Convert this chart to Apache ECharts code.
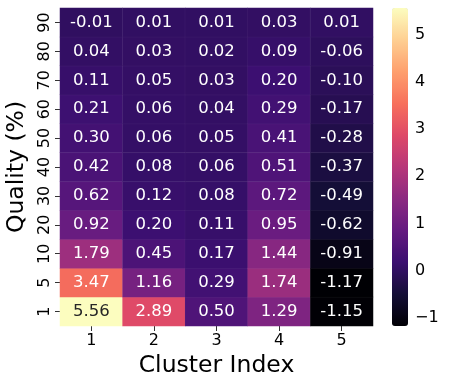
<!DOCTYPE html>
<html>
<head>
<meta charset="utf-8">
<script src="https://cdn.jsdelivr.net/npm/echarts@6/dist/echarts.min.js"></script>
<style>html,body{margin:0;padding:0;background:#fff;}#c{width:449px;height:386px;}</style>
</head>
<body>
<div id="c"></div>
<script>
// Quality levels (bottom to top) and cluster indices
const qualities = ['1', '5', '10', '20', '30', '40', '50', '60', '70', '80', '90'];
const clusters = ['1', '2', '3', '4', '5'];
// Values per cluster, ordered by quality as above
const cluster1 = [5.56, 3.47, 1.79, 0.92, 0.62, 0.42, 0.30, 0.21, 0.11, 0.04, -0.01];
const cluster2 = [2.89, 1.16, 0.45, 0.20, 0.12, 0.08, 0.06, 0.06, 0.05, 0.03, 0.01];
const cluster3 = [0.50, 0.29, 0.17, 0.11, 0.08, 0.06, 0.05, 0.04, 0.03, 0.02, 0.01];
const cluster4 = [1.29, 1.74, 1.44, 0.95, 0.72, 0.51, 0.41, 0.29, 0.20, 0.09, 0.03];
const cluster5 = [-1.15, -1.17, -0.91, -0.62, -0.49, -0.37, -0.28, -0.17, -0.10, -0.06, 0.01];
const colorbarTicks = [-1, 0, 1, 2, 3, 4, 5];

const columns = [cluster1, cluster2, cluster3, cluster4, cluster5];
let all = [];
columns.forEach(c => all = all.concat(c));
const vmin = Math.min(...all), vmax = Math.max(...all);

const data = [];
columns.forEach((col, xi) => {
  col.forEach((v, yi) => {
    const item = { value: [xi, yi, v] };
    if ((v - vmin) / (vmax - vmin) > 0.8) item.label = { color: '#262626' };
    data.push(item);
  });
});

const magma = ['#000004', '#140e36', '#3b0f70', '#641a80', '#8c2981', '#b73779',
  '#de4968', '#f7705c', '#fe9f6d', '#fecf92', '#fcfdbf'];

const FONT = 'DejaVu Sans';
const chart = echarts.init(document.getElementById('c'), null, { renderer: 'canvas' });
chart.setOption({
  animation: false,
  textStyle: { fontFamily: FONT },
  grid: [
    { left: 60, top: 8, width: 313, height: 318, outerBoundsMode: 'none', containLabel: false },
    { left: 392, top: 8, width: 16, height: 318, outerBoundsMode: 'none', containLabel: false }
  ],
  xAxis: [
    {
      type: 'category', data: clusters, gridIndex: 0,
      name: 'Cluster Index', nameLocation: 'middle', nameGap: 22,
      nameTextStyle: { fontSize: 23.5, color: '#000', fontFamily: FONT, verticalAlign: 'top' },
      axisLine: { show: false },
      axisTick: { show: true, alignWithLabel: true, length: 5, lineStyle: { color: '#333' } },
      axisLabel: { fontSize: 16, color: '#000', margin: 7, fontFamily: FONT },
      splitLine: { show: false }
    },
    { type: 'value', gridIndex: 1, show: false, min: 0, max: 1 }
  ],
  yAxis: [
    {
      type: 'category', data: qualities, gridIndex: 0,
      name: 'Quality (%)', nameLocation: 'middle', nameGap: 29, nameRotate: 90,
      nameTextStyle: { fontSize: 23.5, color: '#000', fontFamily: FONT, verticalAlign: 'bottom' },
      axisLine: { show: false },
      axisTick: { show: true, alignWithLabel: true, length: 5, lineStyle: { color: '#333' } },
      axisLabel: { fontSize: 16, color: '#000', rotate: 90, margin: 7, fontFamily: FONT },
      splitLine: { show: false }
    },
    {
      type: 'value', gridIndex: 1, position: 'right', min: vmin, max: vmax,
      axisLine: { show: false },
      splitLine: { show: false },
      axisTick: { show: true, length: 5, lineStyle: { color: '#333' }, customValues: colorbarTicks },
      axisLabel: {
        fontSize: 16, color: '#000', margin: 7, fontFamily: FONT, customValues: colorbarTicks,
        formatter: v => (v < 0 ? '\u2212' + Math.abs(v) : String(v))
      }
    }
  ],
  visualMap: {
    type: 'continuous', min: vmin, max: vmax, seriesIndex: 0,
    calculable: false, orient: 'vertical',
    left: 392, top: 8, itemWidth: 16, itemHeight: 318, padding: 0,
    text: null, showLabel: false,
    inRange: { color: magma }
  },
  series: [
    {
      type: 'heatmap', xAxisIndex: 0, yAxisIndex: 0, data: data,
      label: {
        show: true, fontSize: 16.5, color: '#fff', fontFamily: FONT,
        formatter: p => p.value[2].toFixed(2)
      },
      itemStyle: { borderWidth: 0.5, borderColor: 'rgba(255,255,255,0.08)' },
      emphasis: { disabled: true }
    }
  ]
});
</script>
</body>
</html>
